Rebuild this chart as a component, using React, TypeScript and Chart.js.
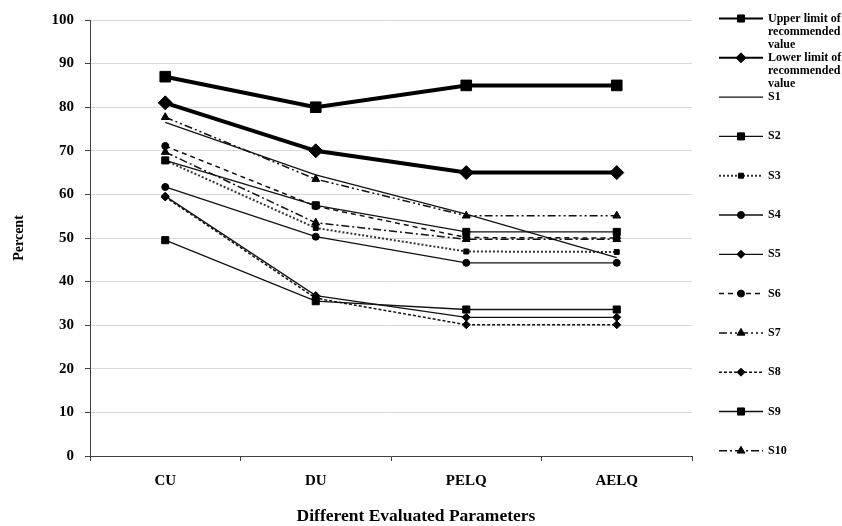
import React, { useEffect, useRef } from "react";
import { Chart, registerables } from "chart.js";
import { drawPoint } from "chart.js/helpers";

Chart.register(...registerables);

const categories = ["CU", "DU", "PELQ", "AELQ"];

const upperLimit = [87, 80, 85, 85];
const lowerLimit = [81, 70, 65, 65];
const s1 = [76.5, 64.5, 55.5, 45.5];
const s2 = [67.8, 57.5, 51.4, 51.4];
const s3 = [67.8, 52.3, 46.9, 46.8];
const s4 = [61.7, 50.3, 44.3, 44.3];
const s5 = [59.6, 36.8, 31.8, 31.8];
const s6 = [71.1, 57.3, 50.1, 50.0];
const s7 = [77.7, 63.5, 55.1, 55.1];
const s8 = [59.4, 36.2, 30.1, 30.1];
const s9 = [49.5, 35.5, 33.6, 33.6];
const s10 = [69.7, 53.5, 49.7, 49.7];

const legendLabels = [
  ["Upper limit of", "recommended", "value"],
  ["Lower limit of", "recommended", "value"],
  ["S1"],
  ["S2"],
  ["S3"],
  ["S4"],
  ["S5"],
  ["S6"],
  ["S7"],
  ["S8"],
  ["S9"],
  ["S10"],
];

const yTitle = "Percent";
const xTitle = "Different Evaluated Parameters";

const FONT = '"Liberation Serif", "Times New Roman", serif';

function makeSet(
  label: string,
  data: number[],
  width: number,
  dash: number[],
  style: string | false,
  radius: number,
  color = "#000"
) {
  return {
    label,
    data,
    borderColor: color,
    backgroundColor: "#000",
    borderWidth: width,
    borderDash: dash,
    pointStyle: style || "circle",
    pointRadius: style ? radius : 0,
    pointBackgroundColor: "#000",
    pointBorderColor: "#000",
    pointBorderWidth: 1,
    tension: 0,
    fill: false,
  };
}

const legendPlugin = {
  id: "customLegend",
  afterDraw(chart: any) {
    const ctx = chart.ctx as CanvasRenderingContext2D;
    chart.data.datasets.forEach((ds: any, i: number) => {
      const y = 18.5 + i * 39.3;
      ctx.save();
      ctx.strokeStyle = ds.borderColor;
      ctx.lineWidth = Math.min(ds.borderWidth, 2);
      ctx.setLineDash(ds.borderDash || []);
      ctx.beginPath();
      ctx.moveTo(719, y);
      ctx.lineTo(763, y);
      ctx.stroke();
      ctx.setLineDash([]);
      if (ds.pointRadius > 0) {
        ctx.fillStyle = "#000";
        ctx.strokeStyle = "#000";
        ctx.lineWidth = 1;
        drawPoint(
          ctx,
          {
            pointStyle: ds.pointStyle,
            radius: Math.min(ds.pointRadius, 5),
            rotation: 0,
            borderWidth: 1,
          } as any,
          741,
          y
        );
      }
      ctx.fillStyle = "#000";
      ctx.font = `bold 12px ${FONT}`;
      ctx.textBaseline = "middle";
      ctx.textAlign = "left";
      const lines = legendLabels[i];
      lines.forEach((t, k) => ctx.fillText(t, 768, y + k * 13.3));
      ctx.restore();
    });

    // x-axis title, centred as in the reference
    ctx.save();
    ctx.fillStyle = "#000";
    ctx.font = `bold 17.5px ${FONT}`;
    ctx.textAlign = "center";
    ctx.textBaseline = "middle";
    ctx.fillText(xTitle, 416, 516);
    ctx.restore();
  },
};

export default function App() {
  const ref = useRef<HTMLCanvasElement | null>(null);

  useEffect(() => {
    if (!ref.current) return;
    const datasets = [
      makeSet("Upper limit of recommended value", upperLimit, 4, [], "rect", 7.5),
      makeSet("Lower limit of recommended value", lowerLimit, 4, [], "rectRot", 7),
      makeSet("S1", s1, 1.3, [], false, 0, "#111"),
      makeSet("S2", s2, 1.3, [], "rect", 5, "#111"),
      makeSet("S3", s3, 2, [2, 2], "rect", 3.5, "#333"),
      makeSet("S4", s4, 1.3, [], "circle", 3.5, "#111"),
      makeSet("S5", s5, 1.3, [], "rectRot", 4, "#111"),
      makeSet("S6", s6, 1.5, [5, 4], "circle", 3.5, "#111"),
      makeSet("S7", s7, 1.5, [8, 3, 2, 3, 2, 3], "triangle", 4.5, "#111"),
      makeSet("S8", s8, 1.5, [3, 2], "rectRot", 4, "#111"),
      makeSet("S9", s9, 1.3, [], "rect", 5, "#111"),
      makeSet("S10", s10, 1.5, [8, 3, 2, 3], "triangle", 4.5, "#111"),
    ];

    const chart = new Chart(ref.current, {
      type: "line",
      data: { labels: categories, datasets: datasets as any },
      options: {
        animation: false,
        responsive: true,
        maintainAspectRatio: false,
        layout: { padding: { top: 19, right: 150, left: 0, bottom: 0 } },
        plugins: { legend: { display: false }, tooltip: { enabled: false } },
        scales: {
          x: {
            type: "category",
            offset: true,
            grid: {
              display: true,
              drawOnChartArea: false,
              drawTicks: true,
              tickLength: 5,
              offset: true,
              color: "#404040",
            },
            border: { display: true, color: "#404040", width: 1 },
            ticks: {
              padding: 11,
              color: "#000",
              font: { family: FONT, size: 15, weight: "bold" },
            },
            title: { display: false, text: xTitle },
            afterFit(s: any) {
              s.height = 70;
            },
          },
          y: {
            min: 0,
            max: 100,
            ticks: {
              stepSize: 10,
              padding: 11,
              color: "#000",
              font: { family: FONT, size: 15, weight: "bold" },
            },
            grid: {
              color: "#d9d9d9",
              tickColor: "#404040",
              tickLength: 5,
              drawTicks: true,
            },
            border: { display: true, color: "#404040", width: 1 },
            title: {
              display: true,
              text: yTitle,
              color: "#000",
              font: { family: FONT, size: 14, weight: "bold" },
              padding: { top: 10.6, bottom: 0 },
            },
            afterFit(s: any) {
              s.width = 90;
            },
          },
        },
      } as any,
      plugins: [legendPlugin],
    });
    return () => chart.destroy();
  }, []);

  return (
    <div
      style={{
        position: "fixed",
        left: 0,
        top: 0,
        width: 842,
        height: 526,
        background: "#fff",
      }}
    >
      <canvas ref={ref} />
    </div>
  );
}
